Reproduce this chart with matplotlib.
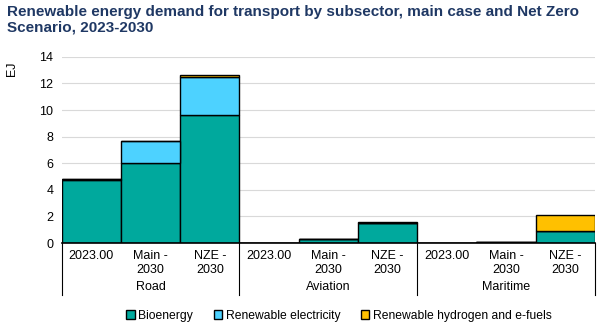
import numpy as np
import matplotlib.pyplot as plt

plt.rcParams['font.family'] = ['Liberation Sans', 'DejaVu Sans']

groups = ['Road', 'Aviation', 'Maritime']
cases = ['2023.00', 'Main -\n2030', 'NZE -\n2030']
bioenergy = [4.75, 6.0, 9.65, 0.02, 0.28, 1.5, 0.02, 0.08, 0.9]
electricity = [0.05, 1.65, 2.8, 0.0, 0.02, 0.0, 0.0, 0.0, 0.0]
hydrogen = [0.0, 0.05, 0.2, 0.0, 0.0, 0.1, 0.0, 0.01, 1.25]

colors = ['#00A99D', '#4DD2FF', '#FFC000']
names = ['Bioenergy', 'Renewable electricity', 'Renewable hydrogen and e-fuels']

fig = plt.figure(figsize=(6.12, 3.25), dpi=100)
ax = fig.add_axes([0.101, 0.252, 0.871, 0.573])

x = np.arange(len(bioenergy))
bottom = np.zeros(len(bioenergy))
for vals, c, n in zip([bioenergy, electricity, hydrogen], colors, names):
    ax.bar(x, vals, width=1.0, bottom=bottom, color=c, edgecolor='black',
           linewidth=1.0, label=n, zorder=3)
    bottom += np.array(vals)

ax.set_xlim(-0.5, len(x) - 0.5)
ax.set_ylim(0, 14)
ax.set_yticks(range(0, 15, 2))
ax.tick_params(axis='y', length=0, labelsize=9, pad=6)
ax.grid(axis='y', color='#D9D9D9', linewidth=0.8, zorder=0)
for s in ['top', 'right', 'left']:
    ax.spines[s].set_visible(False)
ax.spines['bottom'].set_linewidth(1.2)
ax.spines['bottom'].set_zorder(4)

ax.set_xticks(x)
ax.set_xticklabels(cases * 3, fontsize=9, linespacing=1.2, va='top')
ax.tick_params(axis='x', length=0, pad=5)

for i, g in enumerate(groups):
    ax.text(i * 3 + 1, -0.237, g, transform=ax.get_xaxis_transform(),
            ha='center', va='center', fontsize=9)
for b in [-0.5, 2.5, 5.5, 8.5]:
    ax.plot([b, b], [0, -0.28], transform=ax.get_xaxis_transform(),
            color='black', linewidth=0.8, clip_on=False)

fig.text(0.02, 0.79, 'EJ', rotation=90, fontsize=9, ha='center', va='center')
fig.text(0.012, 0.985, 'Renewable energy demand for transport by subsector, main case and Net Zero\nScenario, 2023-2030',
         fontsize=11, fontweight='bold', color='#1F3864', ha='left', va='top',
         linespacing=1.15)

ax.legend(loc='upper center', bbox_to_anchor=(0.52, -0.30), ncol=3, frameon=False,
          fontsize=8.7, handlelength=0.7, handleheight=0.7, handletextpad=0.3,
          columnspacing=1.7)

fig.savefig('out.png', dpi=100)
